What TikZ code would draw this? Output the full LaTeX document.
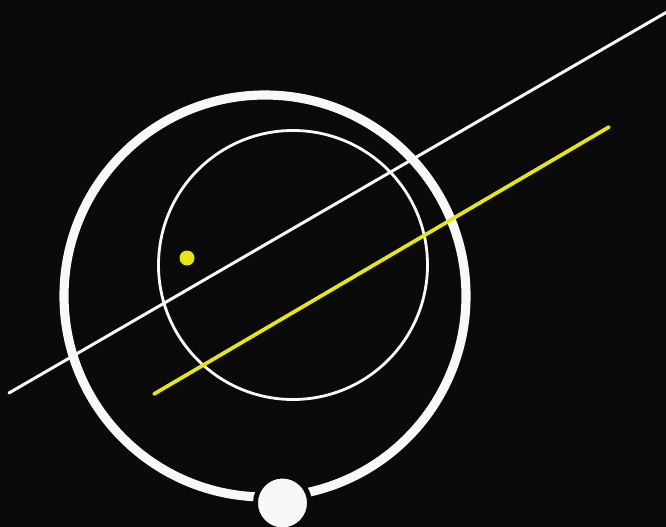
\documentclass[tikz,border=0pt]{standalone}
\usepackage{xcolor}
\usepackage{tikz}
\usetikzlibrary{calc}
\definecolor{orbSky}{HTML}{0A0A0A}
\definecolor{orbWhite}{HTML}{F8F8F8}
\definecolor{orbYellow}{HTML}{E6E614}
\tikzset{
  orbit/.style={draw=orbWhite, line width=5.2pt},
  innerorbit/.style={draw=orbWhite, line width=1.6pt},
  axisline/.style={draw=orbWhite, line width=1.7pt, line cap=round},
  rayline/.style={draw=orbYellow, line width=2.1pt, line cap=round},
  sundot/.style={fill=orbYellow},
  planet/.style={fill=orbWhite, draw=orbSky, line width=2.8pt}
}
\begin{document}
\begin{tikzpicture}[x=0.02cm, y=-0.02cm]
  \fill[orbSky] (0,0) rectangle (666,527);
  \useasboundingbox (0,0) rectangle (666,527);
  \clip (0,0) rectangle (666,527);
  \coordinate (big) at (265,296);
  \coordinate (small) at (293,265);
  \coordinate (axisA) at (9,393);
  \coordinate (axisB) at (672,9);
  \coordinate (rayA) at (154,394);
  \coordinate (rayB) at (609,127);
  \coordinate (sun) at (187,258);
  \coordinate (earth) at (282.5,503);
  \draw[orbit] (big) circle (201);
  \draw[innerorbit] (small) circle (134.5);
  \draw[axisline] (axisA) -- (axisB);
  \draw[rayline] (rayA) -- (rayB);
  \fill[sundot] (sun) circle (7.5);
  \draw[planet] (earth) circle (27);
\end{tikzpicture}
\end{document}
